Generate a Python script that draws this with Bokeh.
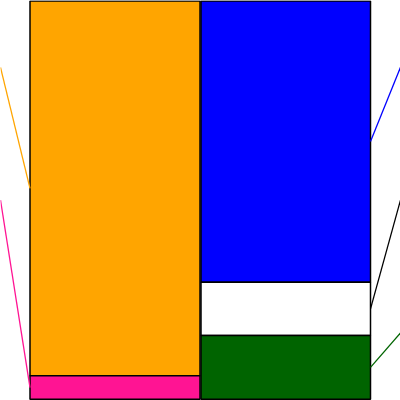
from bokeh.plotting import figure
from bokeh.models import Range1d
from bokeh.embed import file_html
from bokeh.resources import INLINE

# Data (percent shares, listed top to bottom)
left_names = ["Orange", "Pink"]
left_values = [94.1, 5.9]
left_colors = ["#FFA500", "#FF1493"]
left_line_colors = ["#FFA500", "#FF1493"]

right_names = ["Blue", "White", "Green"]
right_values = [70.6, 13.4, 16.0]
right_colors = ["#0000FF", "#FFFFFF", "#006400"]
right_line_colors = ["#0000FF", "#000000", "#006400"]

W, H = 400, 400
p = figure(width=W, height=H, output_backend="svg", toolbar_location=None,
           x_range=Range1d(0, 400), y_range=Range1d(100.3, -0.1),
           min_border=0, min_border_left=0, min_border_right=0,
           min_border_top=0, min_border_bottom=0)
p.axis.visible = False
p.grid.visible = False
p.outline_line_color = None
p.background_fill_color = "white"
p.border_fill_color = "white"


def stack(values):
    tops, bottoms = [], []
    acc = 0.0
    for v in values:
        tops.append(acc)
        acc += v
        bottoms.append(acc)
    return tops, bottoms


def draw_column(values, colors, line_colors, left, right, side):
    tops, bottoms = stack(values)
    p.quad(left=[left] * len(values), right=[right] * len(values),
           top=tops, bottom=bottoms, fill_color=colors,
           line_color="black", line_width=1.5)
    n = len(values)
    for i in range(n):
        mid = (tops[i] + bottoms[i]) / 2
        label_y = 100 * (2 * i + 1) / 6
        if side == "left":
            xs = [0, left]
        else:
            xs = [400, right]
        p.line(xs, [label_y, mid], line_color=line_colors[i], line_width=1.3)


draw_column(left_values, left_colors, left_line_colors, 29.5, 199.5, "left")
draw_column(right_values, right_colors, right_line_colors, 200.5, 370, "right")

open("out.html", "w").write(file_html(p, INLINE))
